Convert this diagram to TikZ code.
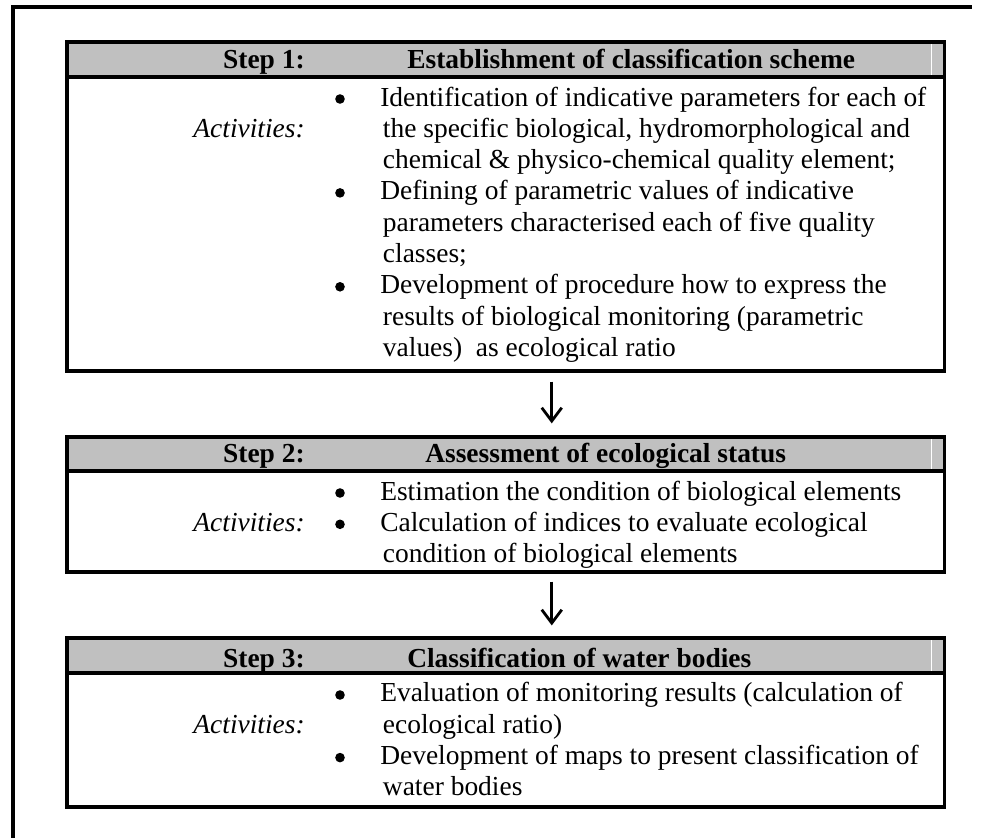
\documentclass[tikz,border=0pt]{standalone}
\usepackage{fontspec}
\setmainfont{Liberation Serif}
\usepackage{tikz}
\usetikzlibrary{positioning, fit, arrows.meta}
\definecolor{hdgray}{RGB}{192,192,192}
\newcommand{\stepfont}{\fontsize{20.6}{23.5}\selectfont}
\tikzset{SB/.style={draw, line width=2.4pt, inner sep=0pt}}
\tikzset{HB/.style={draw, fill=hdgray, line width=2.4pt, inner sep=0pt}}
\tikzset{HD/.style={inner sep=0pt, font=\stepfont\bfseries}}
\tikzset{ACT/.style={inner sep=0pt, font=\stepfont\itshape, anchor=base east}}
\tikzset{BU/.style={circle, fill, inner sep=0pt, minimum size=7.2pt}}
\tikzset{TX/.style={inner sep=0pt, font=\stepfont, anchor=base west, align=left}}
\tikzset{E/.style={draw, line width=2.1pt, -{Straight Barb[length=10pt, width=15pt, line width=2.1pt]}}}
\begin{document}
\begin{tikzpicture}[x=0.75pt, y=-0.75pt]
        \useasboundingbox (0,0) rectangle (981,838);
        %% Frame
        \draw[line width=2.5pt] (13,850) -- (13,7) -- (972,7);
        %% Step 1
        \node[HB, fit={(67,42) (944.5,77)}] (h1) {};
        \node[SB, fit={(67,42) (944.5,371)}] (s1) {};
        \draw[white, line width=0.6pt] (931,44) -- (931,75);
        \node[HD, anchor=base east] (st1) at (305,69) {Step 1:};
        \node[HD, anchor=base west] (ti1) at (407,69) {Establishment of classification scheme};
        \node[ACT] (ac1) at (305,137.3) {Activities:};
        \node[BU] (b11) at (340,99) {};
        \node[TX] (t11) at (380,168.7) {Identification of indicative parameters for each of\\
            \hspace*{2pt}the specific biological, hydromorphological and\\
            \hspace*{2pt}chemical \& physico-chemical quality element;};
        \node[BU] (b12) at (340,192.9) {};
        \node[TX] (t12) at (380,262.5) {Defining of parametric values of indicative\\
            \hspace*{2pt}parameters characterised each of five quality\\
            \hspace*{2pt}classes;};
        \node[BU] (b13) at (340,286.8) {};
        \node[TX] (t13) at (380,356.4) {Development of procedure how to express the\\
            \hspace*{2pt}results of biological monitoring (parametric\\
            \hspace*{2pt}values)\ \ as ecological ratio};
        %% Step 2
        \node[HB, fit={(67,437) (944.5,471)}] (h2) {};
        \node[SB, fit={(67,437) (944.5,572)}] (s2) {};
        \draw[white, line width=0.6pt] (931,439) -- (931,469);
        \node[HD, anchor=base east] (st2) at (305,462) {Step 2:};
        \node[HD, anchor=base west] (ti2) at (425,462) {Assessment of ecological status};
        \node[ACT] (ac2) at (305,531.3) {Activities:};
        \node[BU] (b21) at (340,493) {};
        \node[TX] (t21) at (380,500) {Estimation the condition of biological elements};
        \node[BU] (b22) at (340,524.3) {};
        \node[TX] (t22) at (380,562.6) {Calculation of indices to evaluate ecological\\
            \hspace*{2pt}condition of biological elements};
        %% Step 3
        \node[HB, fit={(67,638) (944.5,673)}] (h3) {};
        \node[SB, fit={(67,638) (944.5,807)}] (s3) {};
        \draw[white, line width=0.6pt] (931,640) -- (931,671);
        \node[HD, anchor=base east] (st3) at (305,667) {Step 3:};
        \node[HD, anchor=base west] (ti3) at (407,667) {Classification of water bodies};
        \node[ACT] (ac3) at (305,733.3) {Activities:};
        \node[BU] (b31) at (340,695) {};
        \node[TX] (t31) at (380,733.3) {Evaluation of monitoring results (calculation of\\
            \hspace*{2pt}ecological ratio)};
        \node[BU] (b32) at (340,757.6) {};
        \node[TX] (t32) at (380,795.9) {Development of maps to present classification of\\
            \hspace*{2pt}water bodies};
        %% Arrows
        \draw[E, shorten <=6.75pt, shorten >=9pt] ([xshift=34.5pt]s1.south) -- ([xshift=34.5pt]s2.north);
        \draw[E, shorten <=6pt, shorten >=8.25pt] ([xshift=34.5pt]s2.south) -- ([xshift=34.5pt]s3.north);
\end{tikzpicture}
\end{document}
